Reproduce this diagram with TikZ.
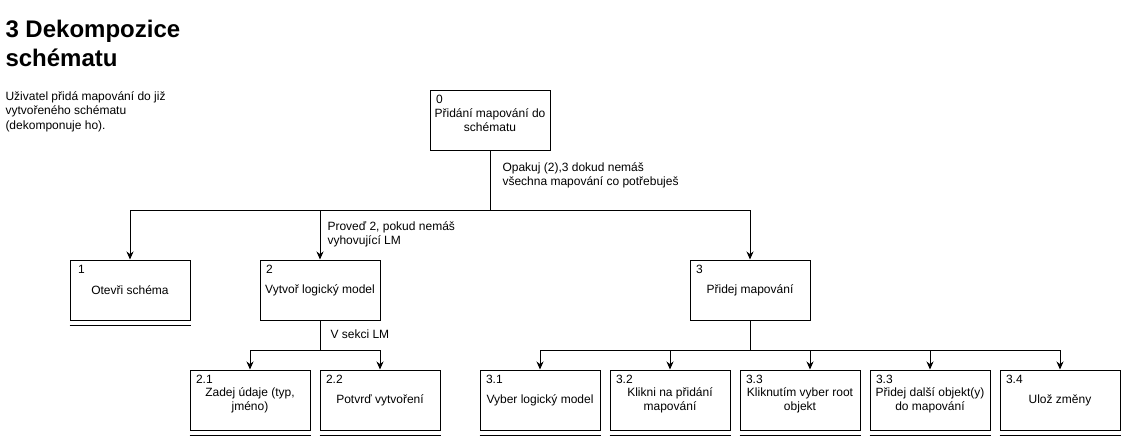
\documentclass[tikz,border=0pt]{standalone}
\usepackage{fontspec}
\setmainfont{Liberation Sans}
\usetikzlibrary{arrows,arrows.meta,positioning}

\begin{document}
\begin{tikzpicture}[x=1pt,y=-1pt,line width=1pt,
    task/.style={draw,minimum width=120pt,minimum height=60pt,inner sep=0pt,align=center,font=\fontsize{12}{14}\selectfont},
    num/.style={anchor=west,inner sep=0pt,font=\fontsize{12}{14}\selectfont},
    note/.style={anchor=west,inner sep=0pt,align=left,font=\fontsize{12}{14.5}\selectfont},
    arr/.style={-{Stealth[length=8pt,width=7pt]}}]
    \useasboundingbox (0,0) rectangle (1122,437);
    % title and description
    \node[anchor=north west,inner sep=0pt,align=left,font=\fontsize{24}{29}\selectfont\bfseries] (title) at (5,20) {3 Dekompozice\\schématu};
    \node[note] (desc) at (5,111.5) {Uživatel přidá mapování do již\\vytvořeného schématu\\(dekomponuje ho).};
    % tasks
    \node[task] (b0) at (490,120) {Přidání mapování do\\schématu};
    \node[num] at ([shift={(6,10)}]b0.north west) {0};
    \node[task] (b1) at (130,290) {Otevři schéma};
    \node[num] at ([shift={(8,10)}]b1.north west) {1};
    \node[task] (b2) at (320,290) {Vytvoř logický model};
    \node[num] at ([shift={(6,10)}]b2.north west) {2};
    \node[task] (b3) at (750,290) {Přidej mapování};
    \node[num] at ([shift={(6,10)}]b3.north west) {3};
    \node[task] (b21) at (250,400) {Zadej údaje (typ,\\jméno)};
    \node[num] at ([shift={(6,10)}]b21.north west) {2.1};
    \node[task] (b22) at (380,400) {Potvrď vytvoření};
    \node[num] at ([shift={(6,10)}]b22.north west) {2.2};
    \node[task] (b31) at (540,400) {Vyber logický model};
    \node[num] at ([shift={(6,10)}]b31.north west) {3.1};
    \node[task] (b32) at (670,400) {Klikni na přidání\\mapování};
    \node[num] at ([shift={(6,10)}]b32.north west) {3.2};
    \node[task] (b33) at (800,400) {Kliknutím vyber root\\objekt};
    \node[num] at ([shift={(6,10)}]b33.north west) {3.3};
    \node[task] (b34) at (930,400) {Přidej další objekt(y)\\do mapování};
    \node[num] at ([shift={(6,10)}]b34.north west) {3.3};
    \node[task] (b35) at (1060,400) {Ulož změny};
    \node[num] at ([shift={(6,10)}]b35.north west) {3.4};
    % underlines
    \foreach \b in {b1,b21,b22,b31,b32,b33,b34,b35}
        \draw ([yshift=-5pt]\b.south west) -- ([yshift=-5pt]\b.south east);
    % connectors
    \coordinate (j0) at (490,210);
    \coordinate (j2) at (320,350);
    \coordinate (j3) at (750,350);
    \draw (b0.south) -- (j0);
    \draw[arr] (j0) -| (b1.north);
    \draw[arr] (j0) -| (b2.north);
    \draw[arr] (j0) -| (b3.north);
    \draw (b2.south) -- (j2);
    \draw[arr] (j2) -| (b21.north);
    \draw[arr] (j2) -| (b22.north);
    \draw (b3.south) -- (j3);
    \draw[arr] (j3) -| (b31.north);
    \draw[arr] (j3) -| (b32.north);
    \draw[arr] (j3) -| ([xshift=10pt]b33.north);
    \draw[arr] (j3) -| (b34.north);
    \draw[arr] (j3) -| (b35.north);
    % connector labels
    \node[note] (l0) at (502,175.5) {Opakuj (2),3 dokud nemáš\\všechna mapování co potřebuješ};
    \node[note] (l1) at (327,234.5) {Proveď 2, pokud nemáš\\vyhovující LM};
    \node[note] (l2) at (330,334) {V sekci LM};
\end{tikzpicture}
\end{document}
